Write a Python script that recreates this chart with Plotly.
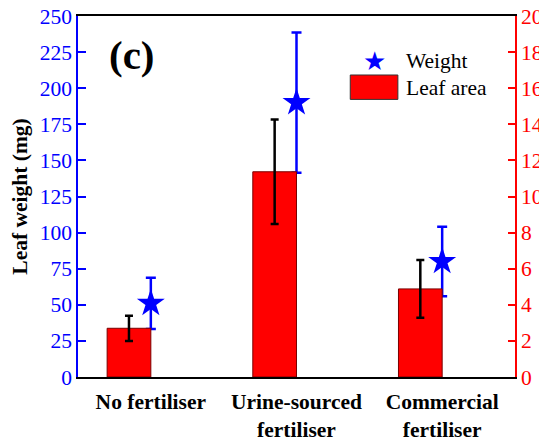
import plotly.graph_objects as go

categories = ["No fertiliser", "Urine-sourced<br>fertiliser", "Commercial<br>fertiliser"]
leaf_area = [2.7, 11.37, 4.88]
leaf_area_err = [0.7, 2.9, 1.6]
leaf_weight = [51, 190, 80]
leaf_weight_err = [17.7, 48.6, 24]
left_ticks = [0, 25, 50, 75, 100, 125, 150, 175, 200, 225, 250]
right_ticks = [0, 2, 4, 6, 8, 10, 12, 14, 16, 18, 20]

FONT = "Times New Roman"
FS = 21.5

fig = go.Figure()
fig.add_trace(go.Bar(
    x=categories, y=leaf_area, yaxis="y2", name="Leaf area",
    offset=-0.3, width=0.3,
    marker=dict(color="#ff0000", line=dict(color="#7a0000", width=1)),
    error_y=dict(type="data", array=leaf_area_err, visible=True,
                 color="black", thickness=2.5, width=4),
    showlegend=False,
))
fig.add_trace(go.Scatter(
    x=categories, y=leaf_weight, mode="markers", name="Weight",
    marker=dict(symbol="star", size=21, color="#0000ff"),
    error_y=dict(type="data", array=leaf_weight_err, visible=True,
                 color="#0000ff", thickness=2.5, width=5),
    showlegend=False,
))

fig.update_layout(
    width=539, height=441,
    margin=dict(l=78, r=23.5, t=16, b=64, autoexpand=False),
    paper_bgcolor="white", plot_bgcolor="white",
    font=dict(family=FONT, size=FS, color="black"),
    xaxis=dict(type="category", range=[-0.5, 2.5], automargin=False,
               showline=True, linecolor="black", linewidth=1.5, mirror=True,
               ticks="", showgrid=False, ticklabelstandoff=4,
               tickfont=dict(family=FONT, size=FS, color="black", weight="bold")),
    yaxis=dict(range=[0, 250], tickvals=left_ticks, showgrid=False, zeroline=False,
               automargin=False,
               showline=True, linecolor="#0000ff", linewidth=1.5,
               ticks="inside", ticklen=8, tickcolor="#0000ff", tickwidth=1.5,
               tickfont=dict(family=FONT, size=FS, color="#0000ff"),
               title=dict(text="Leaf weight (mg)", standoff=6,
                          font=dict(family=FONT, size=FS, color="black", weight="bold"))),
    yaxis2=dict(range=[0, 20], tickvals=right_ticks, overlaying="y", side="right",
                showgrid=False, zeroline=False, automargin=False,
                showline=True, linecolor="#ff0000", linewidth=1.5,
                ticks="inside", ticklen=7, tickcolor="#ff0000", tickwidth=1.5,
                tickfont=dict(family=FONT, size=FS, color="#ff0000")),
    showlegend=False,
)

# panel label
fig.add_annotation(xref="paper", yref="paper", x=0.124, y=0.892, text="<b>(c)</b>",
                   xanchor="center", yanchor="middle",
                   showarrow=False, font=dict(family=FONT, size=41, color="black"))

# manual legend
fig.add_annotation(xref="paper", yref="paper", x=0.679, y=0.876, text="★",
                   xanchor="center", yanchor="middle",
                   showarrow=False, font=dict(family="DejaVu Sans", size=26, color="#0000ff"))
fig.add_annotation(xref="paper", yref="paper", x=0.745, y=0.876, text="Weight",
                   xanchor="left", yanchor="middle",
                   showarrow=False, font=dict(family=FONT, size=FS, color="black"))
fig.add_shape(type="rect", xref="paper", yref="paper", x0=0.623, x1=0.732, y0=0.769, y1=0.8366,
              fillcolor="#ff0000", line=dict(color="#333333", width=1))
fig.add_annotation(xref="paper", yref="paper", x=0.745, y=0.80, text="Leaf area",
                   xanchor="left", yanchor="middle",
                   showarrow=False, font=dict(family=FONT, size=FS, color="black"))

fig.write_html("out.html")
